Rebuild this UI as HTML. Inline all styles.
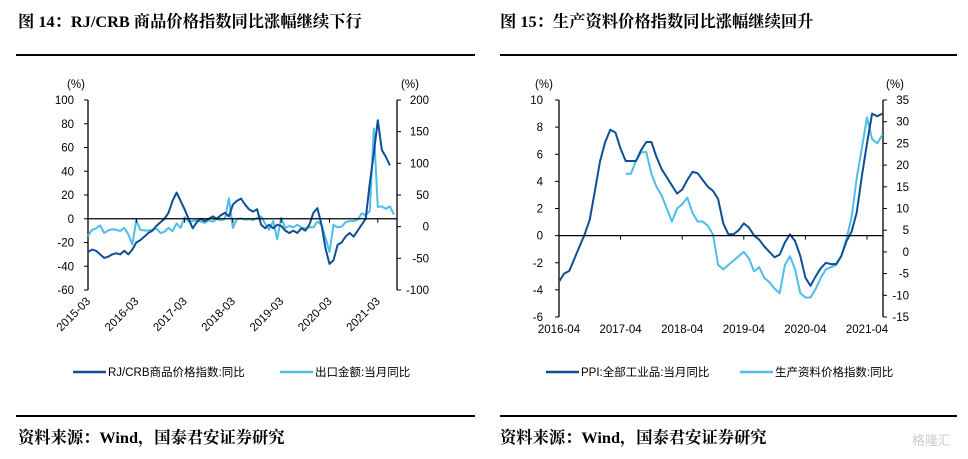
<!DOCTYPE html>
<html><head><meta charset="utf-8">
<style>
body{margin:0;width:968px;height:459px;background:#fff;overflow:hidden;position:relative;font-family:"Liberation Sans","Noto Sans CJK SC",sans-serif}
.t{position:absolute;font-family:"Liberation Serif","Noto Serif CJK SC",serif;font-weight:bold;font-size:16.3px;color:#000;white-space:nowrap}
.rule{position:absolute;height:1.5px;background:#000}
svg{position:absolute;left:0;top:0}
</style></head><body>
<div class="t" style="left:18px;top:8px">图 14：RJ/CRB 商品价格指数同比涨幅继续下行</div>
<div class="t" style="left:500px;top:8px">图 15：生产资料价格指数同比涨幅继续回升</div>
<div class="rule" style="left:16px;top:54px;width:459px"></div>
<div class="rule" style="left:500px;top:54px;width:457px"></div>
<div class="rule" style="left:16px;top:415px;width:459px"></div>
<div class="rule" style="left:500px;top:415px;width:457px"></div>
<div class="t" style="left:18px;top:424px">资料来源：Wind，国泰君安证券研究</div>
<div class="t" style="left:500px;top:424px">资料来源：Wind，国泰君安证券研究</div>
<div style="position:absolute;left:912px;top:430px;font-size:13px;color:#ccc">格隆汇</div>
<svg id="s" width="968" height="459"></svg>
<script>
// Chart 14 data (monthly from 2015-03)
const c14Start = [2015, 3];
const crbYoY = [-28,-26,-27,-30,-33,-32,-30,-29,-30,-27,
 -30,-26,-20,-18,-15,-12,-10,-6,-3,0,5,15,
 22,15,8,0,-8,-3,0,-2,0,2,0,3,
 5,2,12,15,17,12,8,6,8,-5,-8,-5,
 -8,-5,-6,-10,-12,-10,-12,-8,-10,-5,5,9,
 -5,-25,-38,-35,-22,-20,-15,-12,-15,-10,-5,0,
 30,55,83,58,52,45];
const exportYoY = [-15,-5,-3,2,-10,-6,-4,-5,-7,-2,
 -12,-28,10,-5,-6,-6,-5,-3,-10,-8,-2,-7,
 5,-2,15,8,9,10,8,6,10,8,12,10,
 12,45,-2,12,13,11,12,10,14,16,5,-5,
 9,-20,14,-2,1,-1,3,-1,-3,-1,-1,8,
 3,-17,-40,3,-1,0,7,9,9,11,21,18,
 25,155,31,32,28,32,19];
const c14XTicks = ['2015-03','2016-03','2017-03','2018-03','2019-03','2020-03','2021-03'];
const c14LeftTicks = [100,80,60,40,20,0,-20,-40,-60];
const c14RightTicks = [200,150,100,50,0,-50,-100];

// Chart 15 data (monthly from 2016-04)
const ppiYoY = [-3.4,-2.8,-2.6,-1.7,-0.8,0.1,1.2,3.3,5.5,6.9,7.8,7.6,
 6.4,5.5,5.5,5.5,6.3,6.9,6.9,5.8,4.9,4.3,3.7,3.1,
 3.4,4.1,4.7,4.6,4.1,3.6,3.3,2.7,0.9,0.1,0.1,0.4,
 0.9,0.6,0,-0.3,-0.8,-1.2,-1.6,-1.4,-0.5,0.1,-0.4,-1.5,
 -3.1,-3.7,-3.0,-2.4,-2.0,-2.1,-2.1,-1.5,-0.4,0.3,1.7,4.4,
 6.8,9.0,8.8,9.0];
const prodStartOffset = 13; // months after 2016-04 (2017-05)
const prodYoY = [18,18,21,23,23,18,15,13,
 10,7,10,11,12.5,9,7,7,6,4,-3,-4,
 -3,-2,-1,0,-1.5,-4.5,-3.5,-6,-7,-8.5,-9.5,-3,
 -1,-4,-9.5,-10.5,-10.5,-8.5,-6,-4,-3.5,-3,-1,3,
 8,17,24,31,26,25,27];
const c15XTicks = ['2016-04','2017-04','2018-04','2019-04','2020-04','2021-04'];
const c15LeftTicks = [10,8,6,4,2,0,-2,-4,-6];
const c15RightTicks = [35,30,25,20,15,10,5,0,-5,-10,-15];

const NS='http://www.w3.org/2000/svg';
const svg=document.getElementById('s');
function mk(tag,attrs,parent){const e=document.createElementNS(NS,tag);for(const k in attrs)e.setAttribute(k,attrs[k]);(parent||svg).appendChild(e);return e;}
function lin(d0,d1,r0,r1){return v=>r0+(v-d0)*(r1-r0)/(d1-d0);}
const DARK='#0d4f96', LIGHT='#4fbde9';

function axisText(x,y,txt,anchor,name,rot){
  const t=mk('text',{x:x,y:y,'font-size':'11.5','text-anchor':anchor,fill:'#000','font-family':'Liberation Sans, sans-serif'});
  if(rot)t.setAttribute('transform',rot);
  t.textContent=txt;
  
  
  return t;
}
function line(vals,xf,yf,color,name,off){
  let d='';vals.forEach((v,i)=>{d+=(i?'L':'M')+xf(i+(off||0)).toFixed(1)+','+yf(v).toFixed(1);});
  const p=mk('path',{d:d,fill:'none',stroke:color,'stroke-width':2,'stroke-linejoin':'round'});
  
  
}

// ---------- Chart 14 ----------
(function(){
  const L=88,R=397,T=100,B=290;
  const yl=lin(100,-60,T,B), yr=lin(200,-100,T,B);
  const xm=lin(0,12,L,L+48.3);
  const g=mk('line',{x1:L,y1:T,x2:L,y2:B,stroke:'#000','stroke-width':1.3});
  
  const g2=mk('line',{x1:R,y1:T,x2:R,y2:B,stroke:'#000','stroke-width':1.3});
  
  c14LeftTicks.forEach(v=>{mk('line',{x1:L-4,y1:yl(v),x2:L,y2:yl(v),stroke:'#000'});axisText(L-14,yl(v)+4,String(v),'end','c14-left-tick');});
  c14RightTicks.forEach(v=>{mk('line',{x1:R,y1:yr(v),x2:R+4,y2:yr(v),stroke:'#000'});axisText(R+32,yr(v)+4,String(v),'end','c14-right-tick');});
  axisText(L-12,T-12,'(%)','middle','c14-left-unit');
  axisText(R+13,T-12,'(%)','middle','c14-right-unit');
  line(exportYoY,xm,yr,LIGHT,'c14-export-line');
  line(crbYoY,xm,yl,DARK,'c14-crb-line');
  const z=mk('line',{x1:L,y1:yl(0),x2:R,y2:yl(0),stroke:'#000','stroke-width':1.3});
  
  c14XTicks.forEach((s,i)=>{const x=xm(i*12);mk('line',{x1:x,y1:yl(0),x2:x,y2:yl(0)+4,stroke:'#000'});
    axisText(x+3,B+12,s,'end','c14-x-tick','rotate(-45 '+(x+3)+' '+(B+12)+')');});
})();

// ---------- Chart 15 ----------
(function(){
  const L=559,R=883,T=100,B=317;
  const yl=lin(10,-6,T,B), yr=lin(35,-15,T,B);
  const xm=lin(0,12,L,L+61.6);
  const g=mk('line',{x1:L,y1:T,x2:L,y2:B,stroke:'#000','stroke-width':1.3});
  
  const g2=mk('line',{x1:R,y1:T,x2:R,y2:B,stroke:'#000','stroke-width':1.3});
  
  c15LeftTicks.forEach(v=>{mk('line',{x1:L-4,y1:yl(v),x2:L,y2:yl(v),stroke:'#000'});axisText(L-16,yl(v)+4,String(v),'end','c15-left-tick');});
  c15RightTicks.forEach(v=>{mk('line',{x1:R,y1:yr(v),x2:R+4,y2:yr(v),stroke:'#000'});axisText(R+26,yr(v)+4,String(v),'end','c15-right-tick');});
  axisText(L-15,T-12,'(%)','middle','c15-left-unit');
  axisText(R+12,T-12,'(%)','middle','c15-right-unit');
  line(prodYoY,xm,yr,LIGHT,'c15-prod-line',prodStartOffset);
  line(ppiYoY,xm,yl,DARK,'c15-ppi-line');
  const z=mk('line',{x1:L,y1:yl(0),x2:R,y2:yl(0),stroke:'#000','stroke-width':1.3});
  
  c15XTicks.forEach((s,i)=>{const x=xm(i*12);mk('line',{x1:x,y1:yl(0),x2:x,y2:yl(0)+4,stroke:'#000'});
    axisText(x,B+16,s,'middle','c15-x-tick');});
})();

// legends
function legend(x,y,color,txt,name){
  const l=mk('line',{x1:x,y1:y,x2:x+33,y2:y,stroke:color,'stroke-width':2.5});
  
  const t=mk('text',{x:x+35,y:y+4,'font-size':'11.5',fill:'#000','font-family':'Liberation Sans, Noto Sans CJK SC, sans-serif'});
  t.textContent=txt;
  
  
}
legend(73,372,DARK,'RJ/CRB商品价格指数:同比','legend-crb');
legend(280,372,LIGHT,'出口金额:当月同比','legend-export');
legend(546,372,DARK,'PPI:全部工业品:当月同比','legend-ppi');
legend(740,372,LIGHT,'生产资料价格指数:同比','legend-prod');
</script>
</body></html>
